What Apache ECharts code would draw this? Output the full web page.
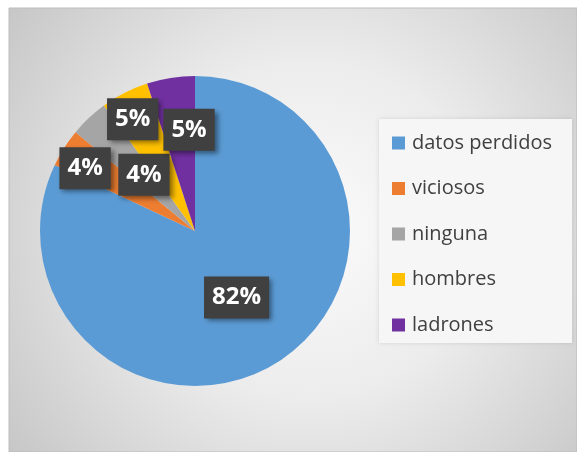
<!DOCTYPE html>
<html>
<head>
<meta charset="utf-8">
<script src="https://cdn.jsdelivr.net/npm/echarts@6/dist/echarts.min.js"></script>
<style>
html,body{margin:0;padding:0;background:#ffffff;}
#chart{width:577px;height:452px;}
</style>
</head>
<body>
<div id="chart"></div>
<script>
// Data
const categories = ['datos perdidos', 'viciosos', 'ninguna', 'hombres', 'ladrones'];
const values = [82, 4, 4, 5, 5];

// Styling (not data)
const palette = ['#5B9BD5', '#ED7D31', '#A5A5A5', '#FFC000', '#7030A0'];
const labelRadiusFrac = [0.495, 0.823, 0.50, 0.837, 0.667];
const labelAngleShift = [-0.4, -1.9, 2, -1.7, 5.7];
const pieCenter = [195, 231];
const pieRadius = 155;

const total = values.reduce((a, b) => a + b, 0);
function labelPos(i) {
  let acc = 0;
  for (let k = 0; k < i; k++) acc += values[k];
  acc += values[i] / 2;
  const a = (acc / total * 360 + labelAngleShift[i]) * Math.PI / 180;
  const rr = labelRadiusFrac[i] * pieRadius;
  return [pieCenter[0] + rr * Math.sin(a), pieCenter[1] - rr * Math.cos(a) + 2];
}

const chart = echarts.init(document.getElementById('chart'), null, {renderer: 'canvas'});

const option = {
  animation: false,
  color: palette,
  graphic: [
    {
      type: 'rect',
      z: 0,
      silent: true,
      shape: {x: 9, y: 8, width: 568, height: 444},
      style: {
        fill: {
          type: 'radial', x: 0.53, y: 0.5, r: 0.85,
          colorStops: [
            {offset: 0, color: '#fbfbfb'},
            {offset: 0.45, color: '#ececec'},
            {offset: 1, color: '#c6c6c6'}
          ]
        },
        stroke: '#bdbdbd',
        lineWidth: 1
      }
    },
    {
      type: 'rect',
      z: 1,
      silent: true,
      shape: {x: 379, y: 119, width: 193, height: 224},
      style: {
        fill: '#f6f6f6',
        shadowColor: 'rgba(0,0,0,0.12)',
        shadowBlur: 4
      }
    }
  ],
  legend: {
    orient: 'vertical',
    left: 392,
    top: 133,
    padding: 0,
    itemWidth: 13,
    itemHeight: 13,
    itemGap: 25.5,
    icon: 'rect',
    data: categories,
    textStyle: {
      fontFamily: 'Open Sans',
      fontSize: 20,
      color: '#404040',
      lineHeight: 20,
      padding: [0, 0, 0, 2]
    }
  },
  series: [
    {
      type: 'pie',
      center: pieCenter,
      radius: pieRadius,
      startAngle: 90,
      clockwise: true,
      percentPrecision: 0,
      itemStyle: {borderWidth: 0},
      emphasis: {disabled: true},
      label: {
        show: true,
        position: 'inside',
        formatter: '{d}%',
        fontFamily: 'Open Sans',
        fontWeight: 'bold',
        fontSize: 24,
        lineHeight: 24,
        color: '#ffffff',
        backgroundColor: '#404040',
        padding: [9, 8, 9, 8],
        shadowColor: 'rgba(0,0,0,0.45)',
        shadowBlur: 5,
        shadowOffsetX: 3,
        shadowOffsetY: 3
      },
      labelLine: {show: false},
      labelLayout: function (params) {
        const p = labelPos(params.dataIndex);
        return {x: p[0], y: p[1], align: 'center', verticalAlign: 'middle'};
      },
      data: categories.map((name, i) => ({name: name, value: values[i]}))
    }
  ]
};

chart.setOption(option);
</script>
</body>
</html>
